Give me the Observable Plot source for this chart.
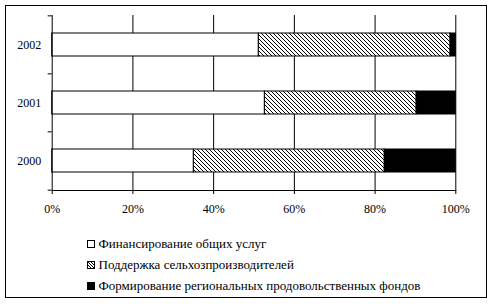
<!DOCTYPE html>
<html><head><meta charset="utf-8">
<script src="https://cdn.jsdelivr.net/npm/d3@7"></script>
<script src="https://cdn.jsdelivr.net/npm/@observablehq/plot@0.6"></script>
<style>
body{margin:0;background:#fff;width:493px;height:304px;position:relative;overflow:hidden;font-family:"Liberation Serif","Times New Roman",serif;}
#frame{position:absolute;left:5px;top:5px;width:480px;height:291px;border:1px solid #000;pointer-events:none}
#chart{position:absolute;left:0;top:0}
#legend{position:absolute;left:86.5px;top:234px;font-size:13px;color:#000;font-family:"Liberation Serif","Times New Roman",serif}
.item{display:flex;align-items:center;height:20.7px;white-space:nowrap}
.item svg{margin-right:4px;flex:none}
</style>
</head><body>
<div id="chart"></div>
<div id="legend"></div>
<div id="frame"></div>
<script>
const years = ["2002", "2001", "2000"];
const seriesNames = [
  "Финансирование общих услуг",
  "Поддержка сельхозпроизводителей",
  "Формирование региональных продовольственных фондов"
];
// shares (%) per year, in the order of `years`
const general = [51.2, 52.7, 35.1];
const producers = [47.5, 37.6, 47.3];
const funds = [1.3, 9.7, 17.6];
const xTicks = [0, 20, 40, 60, 80, 100];
const fills = ["white", "url(#hatch)", "black"];

const seriesValues = [general, producers, funds];
const rows = [];
seriesNames.forEach((s, si) => years.forEach((y, yi) => rows.push({series: s, year: y, value: seriesValues[si][yi]})));

const H = 220, mT = 15, mB = 30;
const step = (H - mT - mB) / years.length;

const chart = Plot.plot({
  width: 493,
  height: H,
  marginLeft: 51.7,
  marginRight: 37.7,
  marginTop: mT,
  marginBottom: mB,
  style: {fontFamily: '"Liberation Serif","Times New Roman",serif', fontSize: "12px", color: "#000", background: "white"},
  x: {domain: [0, 100], ticks: xTicks, tickFormat: d => d + "%", tickSize: 4, tickPadding: 10, label: null},
  y: {domain: years, paddingInner: 0.6, paddingOuter: 0.3, tickSize: 0, tickPadding: 11, label: null},
  color: {domain: seriesNames, range: fills},
  marks: [
    Plot.ruleX(xTicks.slice(1), {stroke: "black", strokeWidth: 1}),
    Plot.barX(rows, Plot.stackX({x: "value", y: "year", fill: "series", stroke: "black", strokeWidth: 1})),
    Plot.ruleX([0], {stroke: "black"}),
    Plot.frame({anchor: "bottom", stroke: "black"}),
    Plot.ruleY(years, {y: d => d, x1: -1, x2: 0, dy: -step / 2, stroke: "black"}),
    Plot.ruleY([years[years.length - 1]], {y: d => d, x1: -1, x2: 0, dy: step / 2, stroke: "black"})
  ]
});

const defs = d3.select(chart).insert("defs", ":first-child");
const pat = defs.append("pattern").attr("id", "hatch").attr("patternUnits", "userSpaceOnUse").attr("width", 4).attr("height", 4);
pat.append("rect").attr("width", 4).attr("height", 4).attr("fill", "white");
pat.append("path").attr("d", "M-1,-1L5,5M-1,3L1,5M3,-1L5,1").attr("stroke", "black").attr("stroke-width", 1);
d3.select(chart).selectAll("text").attr("fill", "#000");
document.getElementById("chart").appendChild(chart);

// legend
const legend = d3.select("#legend");
seriesNames.forEach((name, i) => {
  const item = legend.append("div").attr("class", "item");
  const sv = item.append("svg").attr("width", 8).attr("height", 8);
  if (i === 1) {
    const p = sv.append("defs").append("pattern").attr("id", "lh" + i).attr("patternUnits", "userSpaceOnUse").attr("width", 3).attr("height", 3);
    p.append("rect").attr("width", 3).attr("height", 3).attr("fill", "white");
    p.append("path").attr("d", "M-1,-1L4,4M-1,2L1,4M2,-1L4,1").attr("stroke", "black").attr("stroke-width", 1);
  }
  sv.append("rect").attr("x", 0.5).attr("y", 0.5).attr("width", 7).attr("height", 7)
    .attr("fill", i === 1 ? "url(#lh1)" : fills[i]).attr("stroke", "black");
  item.append("span").text(name);
});
</script>
</body></html>
